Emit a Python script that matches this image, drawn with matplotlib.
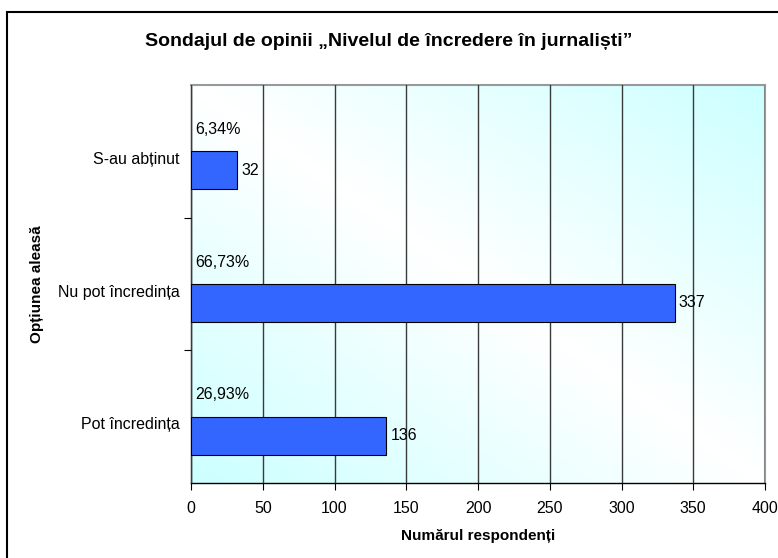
import numpy as np
import matplotlib.pyplot as plt
from matplotlib.colors import LinearSegmentedColormap
from matplotlib.patches import Rectangle

plt.rcParams['font.family'] = ['Liberation Sans', 'DejaVu Sans']

# Data
categories = ["Pot încredința", "Nu pot încredința", "S-au abținut"]
counts = [136, 337, 32]
percents = ["26,93%", "66,73%", "6,34%"]
xticks = [0, 50, 100, 150, 200, 250, 300, 350, 400]

fig = plt.figure(figsize=(7.78, 5.58), dpi=100)
ax = fig.add_axes([0.2455, 0.1344, 0.7378, 0.7133])

# figure frame (only the top and left edges are visible in the original)
fig.patches.append(Rectangle((7 / 778, -0.1), 1.2, 1 - 12 / 558 + 0.1,
                             transform=fig.transFigure, fill=False,
                             edgecolor="black", linewidth=1.5))

# diagonal gradient background: white along TL-BR diagonal, cyan at TR / BL corners
n = 200
gx, gy = np.meshgrid(np.linspace(0, 1, n), np.linspace(0, 1, n))
t = np.abs(gx + gy - 1)
cmap = LinearSegmentedColormap.from_list("bg", ["#ffffff", "#ccffff"])
ax.imshow(t, cmap=cmap, extent=[0, 400, -0.5, 2.5], origin="lower",
          aspect="auto", zorder=0, vmin=0, vmax=1)

pos = np.arange(len(categories))
bar_h = 0.286
ax.barh(pos - bar_h / 2, counts, height=bar_h, color="#3366ff",
        edgecolor="black", linewidth=0.8, zorder=3)

for p, c, pc in zip(pos, counts, percents):
    ax.text(c + 3, p - bar_h / 2, str(c), va="center", ha="left", fontsize=11.5, zorder=4)
    ax.text(3, p + 0.165, pc, va="center", ha="left", fontsize=11.5, zorder=4)

ax.set_xlim(0, 400)
ax.set_ylim(-0.5, 2.5)
ax.set_xticks(xticks)
ax.tick_params(axis="x", labelsize=11.5, direction="out", length=5, pad=8)
ax.xaxis.grid(True, color="#3a3a3a", linewidth=1, zorder=1)
ax.set_axisbelow(False)

# y ticks at category boundaries, labels between them
ax.set_yticks([0.5, 1.5])
ax.set_yticklabels([])
ax.set_yticks(pos - 0.05, minor=True)
ax.set_yticklabels(categories, minor=True, fontsize=11.5)
ax.tick_params(axis="y", which="minor", length=0, pad=8)
ax.tick_params(axis="y", which="major", length=5, direction="out")

for s in ["left", "bottom"]:
    ax.spines[s].set_color("black")
    ax.spines[s].set_linewidth(1)
for s in ["top", "right"]:
    ax.spines[s].set_color("#999999")
    ax.spines[s].set_linewidth(1.5)

ax.set_xlabel("Numărul respondenți", fontsize=11, fontweight="bold", labelpad=9)
ax.set_ylabel("Opțiunea aleasă", fontsize=11, fontweight="bold", labelpad=10)
fig.text(0.5, 1 - 42 / 558, "Sondajul de opinii „Nivelul de încredere în jurnaliști”",
         ha="center", va="center", fontsize=14, fontweight="bold")

fig.savefig("out.png", dpi=100)
